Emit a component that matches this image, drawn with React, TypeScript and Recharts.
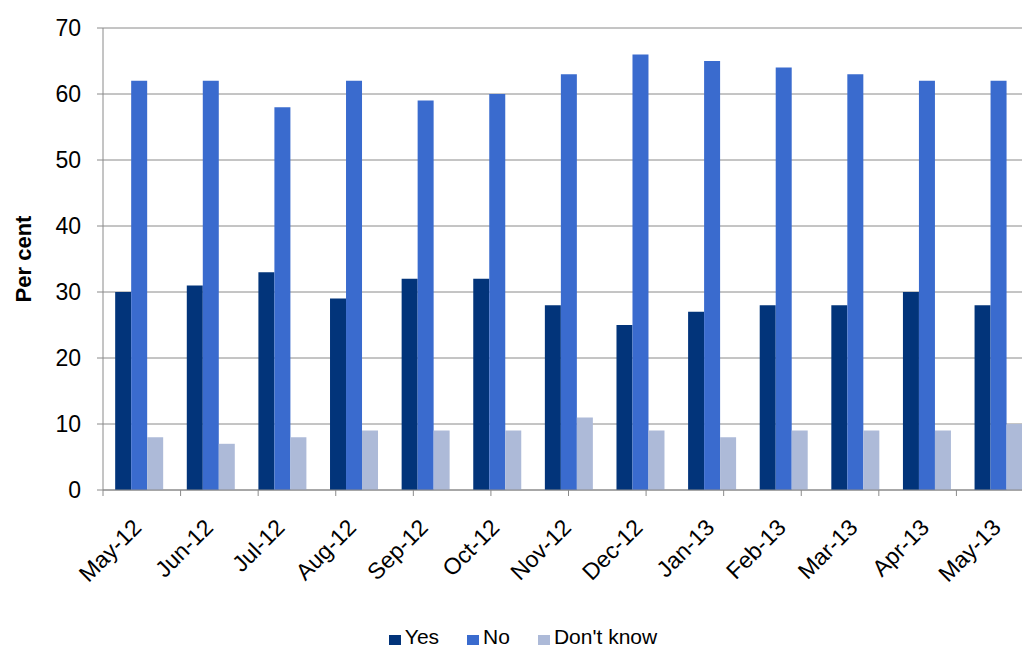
import { BarChart, Bar, XAxis, YAxis, CartesianGrid, Legend } from "recharts";

const months = [
  "May-12", "Jun-12", "Jul-12", "Aug-12", "Sep-12", "Oct-12", "Nov-12",
  "Dec-12", "Jan-13", "Feb-13", "Mar-13", "Apr-13", "May-13",
];
const yesValues = [30, 31, 33, 29, 32, 32, 28, 25, 27, 28, 28, 30, 28];
const noValues = [62, 62, 58, 62, 59, 60, 63, 66, 65, 64, 63, 62, 62];
const dontKnowValues = [8, 7, 8, 9, 9, 9, 11, 9, 8, 9, 9, 9, 10];
const yTicks = [0, 10, 20, 30, 40, 50, 60, 70];

const seriesNames = ["Yes", "No", "Don't know"];
const seriesColors = ["#02347a", "#3a6bce", "#adbad8"];

const FONT = '"Liberation Sans", Arial, sans-serif';
const GRID = "#8a8a8a";

const data = months.map((month, i) => ({
  month,
  yes: yesValues[i],
  no: noValues[i],
  dontKnow: dontKnowValues[i],
}));

// tick marks sit on category boundaries, so a numeric axis draws them
const edgeTicks = months.map((_, i) => i).concat(months.length);

const MonthTick = ({ x, y, payload }: any) => (
  <g transform={`translate(${x + 4},${y + 38})`}>
    <text
      textAnchor="end"
      transform="rotate(-45)"
      fontSize={23}
      fontFamily={FONT}
      fill="#000"
    >
      {payload.value}
    </text>
  </g>
);

const YLabel = ({ viewBox }: any) => {
  const cx = viewBox.x + 31;
  const cy = viewBox.y + viewBox.height / 2;
  return (
    <text
      x={cx}
      y={cy}
      transform={`rotate(-90, ${cx}, ${cy})`}
      textAnchor="middle"
      fontSize={22}
      fontWeight="bold"
      fontFamily={FONT}
      fill="#000"
    >
      Per cent
    </text>
  );
};

const LegendContent = () => (
  <div
    style={{
      display: "flex",
      justifyContent: "center",
      height: 22,
      lineHeight: "22px",
      fontFamily: FONT,
      fontSize: 21,
      color: "#000",
      paddingLeft: 12,
    }}
  >
    {seriesNames.map((name, i) => (
      <div key={name} style={{ display: "flex", alignItems: "center", marginRight: i < 2 ? 28 : 0 }}>
        <span
          style={{
            display: "inline-block",
            width: 12,
            height: 10,
            background: seriesColors[i],
            marginRight: 4,
            marginTop: 5,
          }}
        />
        <span>{name}</span>
      </div>
    ))}
  </div>
);

export default function App() {
  return (
    <div style={{ position: "absolute", left: 0, top: 0, width: 1022, height: 648, overflow: "hidden", background: "#fff" }}>
      <BarChart
        width={1034}
        height={648}
        data={data}
        margin={{ top: 28, right: 0, left: 0, bottom: 0 }}
        barCategoryGap="17%"
        barGap={0}
      >
        <CartesianGrid vertical={false} stroke={GRID} xAxisId="b" />
        <XAxis
          xAxisId="b"
          dataKey="month"
          interval={0}
          height={135}
          tickSize={0}
          tickMargin={0}
          tickLine={false}
          axisLine={false}
          tick={<MonthTick />}
        />
        <XAxis
          xAxisId="a"
          type="number"
          domain={[0, months.length]}
          ticks={edgeTicks}
          interval={0}
          height={1}
          tickSize={6}
          tickFormatter={() => ""}
          tickLine={{ stroke: GRID }}
          axisLine={{ stroke: GRID }}
        />
        <YAxis
          domain={[0, 70]}
          ticks={yTicks}
          width={103}
          tickSize={6}
          tickMargin={16}
          tick={{ fontSize: 23, fill: "#000", fontFamily: FONT }}
          tickLine={{ stroke: GRID }}
          axisLine={{ stroke: GRID }}
          label={<YLabel />}
        />
        <Legend verticalAlign="bottom" content={<LegendContent />} />
        <Bar xAxisId="b" dataKey="yes" name="Yes" fill={seriesColors[0]} isAnimationActive={false} />
        <Bar xAxisId="b" dataKey="no" name="No" fill={seriesColors[1]} isAnimationActive={false} />
        <Bar xAxisId="b" dataKey="dontKnow" name="Don't know" fill={seriesColors[2]} isAnimationActive={false} />
      </BarChart>
    </div>
  );
}
